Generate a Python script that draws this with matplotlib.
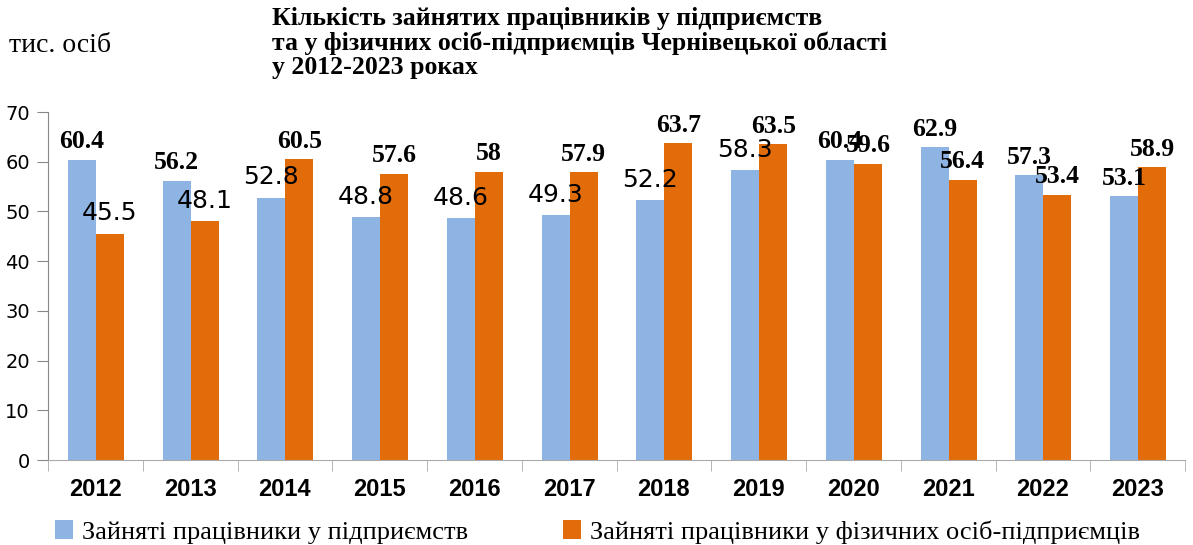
import matplotlib
matplotlib.use("Agg")
import matplotlib.pyplot as plt
import numpy as np

years = ["2012", "2013", "2014", "2015", "2016", "2017", "2018", "2019", "2020", "2021", "2022", "2023"]
enterprises = [60.4, 56.2, 52.8, 48.8, 48.6, 49.3, 52.2, 58.3, 60.4, 62.9, 57.3, 53.1]
individuals = [45.5, 48.1, 60.5, 57.6, 58, 57.9, 63.7, 63.5, 59.6, 56.4, 53.4, 58.9]
# label style: True = bold serif, False = regular sans
ent_bold = [True, True, False, False, False, False, False, False, True, True, True, True]
ind_bold = [False, False, True, True, True, True, True, True, True, True, True, True]

title = "Кількість зайнятих працівників у підприємств\nта у фізичних осіб-підприємців Чернівецької області\nу 2012-2023 роках"
unit = "тис. осіб"
legend_labels = ["Зайняті працівники у підприємств", "Зайняті працівники у фізичних осіб-підприємців"]

c_blue = "#8EB4E3"
c_orange = "#E36C0A"

fig = plt.figure(figsize=(11.93, 5.45), dpi=100)
ax = fig.add_axes([48 / 1193, 85 / 545, (1185 - 48) / 1193, 348 / 545])

x = np.arange(len(years)) + 0.5
w = 0.296
b1 = ax.bar(x - w / 2 + 0.006, enterprises, w, color=c_blue, label=legend_labels[0])
b2 = ax.bar(x + w / 2 + 0.006, individuals, w, color=c_orange, label=legend_labels[1])

def fmt(v):
    return ("%g" % v)

for bars, vals, bolds in ((b1, enterprises, ent_bold), (b2, individuals, ind_bold)):
    for r, v, bd in zip(bars, vals, bolds):
        cx = r.get_x() + r.get_width() / 2
        if bd:
            ax.annotate(fmt(v), (cx, v), xytext=(0, 4.5), textcoords="offset points",
                        ha="center", va="bottom", fontsize=18.5, fontweight="bold",
                        family="Liberation Serif", color="black")
        else:
            ax.annotate(fmt(v), (cx, v), xytext=(0, 6), textcoords="offset points",
                        ha="center", va="bottom", fontsize=18,
                        family="DejaVu Sans", color="black")

ax.set_xlim(0, 12)
ax.set_ylim(0, 70)
ax.set_yticks(range(0, 71, 10))
ax.tick_params(axis="y", labelsize=14, length=8, color="#888888", pad=5)
ax.set_xticks(x)
ax.set_xticklabels(years, fontsize=17, fontweight="bold", family="Liberation Sans")
ax.tick_params(axis="x", length=0, pad=13)
ax.set_xticks(np.arange(0, 13), minor=True)
ax.tick_params(axis="x", which="minor", length=8, color="#aaaaaa", direction="out")
for s in ("top", "right"):
    ax.spines[s].set_visible(False)
ax.spines["left"].set_color("#888888")
ax.spines["bottom"].set_color("#aaaaaa")

fig.text(272 / 1193, 1 - 7 / 545, title, ha="left", va="top", fontsize=18.5, fontweight="bold",
         family="Liberation Serif", linespacing=1.06)
fig.text(9 / 1193, 1 - 46 / 545, unit, ha="left", va="center", fontsize=20, family="Liberation Serif")

leg = fig.legend(handles=[b1, b2], labels=legend_labels, loc="center left",
                 bbox_to_anchor=(55 / 1193, 1 - 532 / 545), ncol=2, frameon=False,
                 prop={"family": "Liberation Serif", "size": 19},
                 handlelength=0.68, handleheight=0.68, handletextpad=0.35, columnspacing=3.6,
                 borderpad=0, borderaxespad=0)

fig.savefig("out.png", dpi=100)
